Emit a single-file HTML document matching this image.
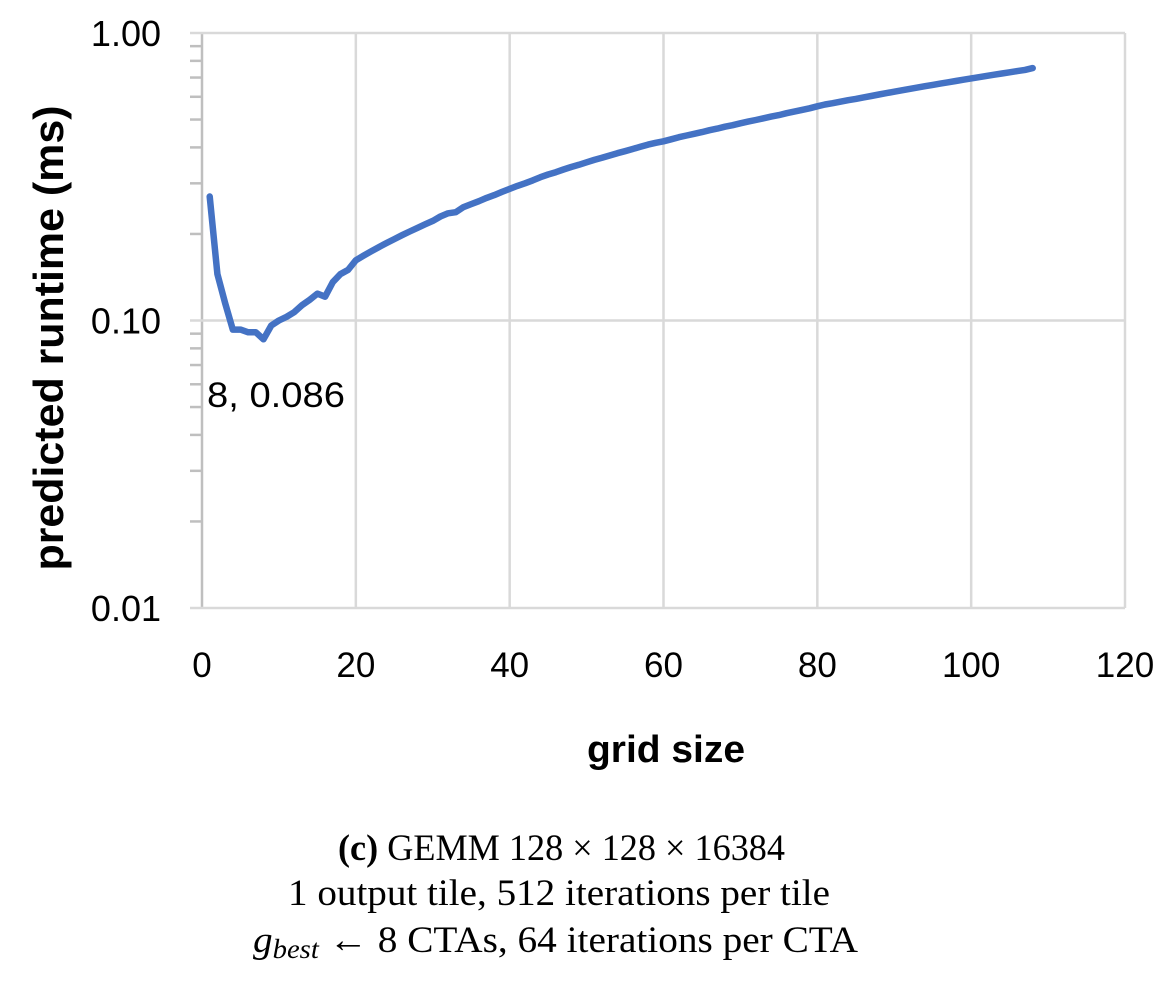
<!DOCTYPE html>
<html><head><meta charset="utf-8"><style>
body{margin:0;background:#fff;width:1168px;height:990px;overflow:hidden}
svg text{font-family:"Liberation Sans",sans-serif}
</style></head><body>
<svg id="chart" width="1168" height="990" xmlns="http://www.w3.org/2000/svg">
<g id="grid"></g>
<g id="ticks"></g>
<path id="line" fill="none" stroke="#4472C4" stroke-width="6.5" stroke-linejoin="round" stroke-linecap="round"/>
<text x="207" y="407" font-size="35" textLength="138" lengthAdjust="spacingAndGlyphs">8, 0.086</text>
<text transform="translate(63,338) rotate(-90)" text-anchor="middle" font-size="42" font-weight="bold" textLength="465" lengthAdjust="spacingAndGlyphs">predicted runtime (ms)</text>
<text x="666" y="762" text-anchor="middle" font-size="38" font-weight="bold" textLength="158" lengthAdjust="spacingAndGlyphs">grid size</text>
<g font-size="37">
<text x="338" y="860" style="font-family:'Liberation Serif',serif" textLength="447" lengthAdjust="spacingAndGlyphs"><tspan font-weight="bold">(c)</tspan> GEMM 128 × 128 × 16384</text>
<text x="288" y="905" style="font-family:'Liberation Serif',serif" textLength="542" lengthAdjust="spacingAndGlyphs">1 output tile, 512 iterations per tile</text>
<text x="253" y="952" style="font-family:'Liberation Serif',serif" textLength="605" lengthAdjust="spacingAndGlyphs"><tspan font-style="italic">g</tspan><tspan font-style="italic" font-size="27" dy="6">best</tspan><tspan dy="-6"> ← 8 CTAs, 64 iterations per CTA</tspan></text>
</g>
</svg>
<script>
const gridSizes=[];for(let i=1;i<=108;i++)gridSizes.push(i);
const runtimes=[.27,.145,.115,.093,.093,.091,.091,.086,.096,.100,.103,.107,.113,.118,.124,.121,.136,.145,.150,.162,
.168,.174,.180,.186,.192,.198,.204,.210,.216,.222,.230,.236,.238,.248,.254,.260,.267,.273,.280,.287,
.294,.300,.307,.315,.322,.328,.335,.342,.348,.355,.362,.368,.375,.382,.388,.395,.402,.409,.415,.420,
.427,.434,.440,.446,.452,.459,.465,.472,.478,.485,.492,.498,.505,.512,.518,.526,.533,.540,.547,.556,
.564,.570,.577,.584,.590,.597,.604,.611,.618,.625,.632,.639,.646,.653,.660,.667,.674,.681,.688,.695,
.702,.709,.716,.723,.730,.737,.744,.755];
const xTicks=[0,20,40,60,80,100,120];
const yTicks=[1,0.1,0.01];
const yTickLabels=["1.00","0.10","0.01"];
const X=v=>202+v*(1125-202)/120;
const Y=v=>33+(0-Math.log10(v))*287.5;
const NS="http://www.w3.org/2000/svg";
const grid=document.getElementById('grid'),ticks=document.getElementById('ticks');
function mk(tag,at,par){const e=document.createElementNS(NS,tag);for(const k in at)e.setAttribute(k,at[k]);par.appendChild(e);return e;}
xTicks.forEach(t=>{
 const l=mk('line',{x1:X(t),x2:X(t),y1:33,y2:608,stroke:t===0?'#bfbfbf':'#d9d9d9','stroke-width':2.5},grid);
 
 
 const tx=mk('text',{x:X(t),y:677,'text-anchor':'middle','font-size':35},ticks);
 tx.textContent=t;
 
 
});
yTicks.forEach((t,i)=>{
 const l=mk('line',{x1:190,x2:1125,y1:Y(t),y2:Y(t),stroke:'#d9d9d9','stroke-width':2.5},grid);
 
 
 const tx=mk('text',{x:161,y:Y(t)+13,'text-anchor':'end','font-size':36},ticks);
 tx.textContent=yTickLabels[i];
 
 
});
[0.1,0.01].forEach(d=>{for(let m=2;m<=9;m++){
 const l=mk('line',{x1:190,x2:202,y1:Y(d*m),y2:Y(d*m),stroke:'#bfbfbf','stroke-width':2.5},ticks);
 
 
}});
document.getElementById('line').setAttribute('d',gridSizes.map((g,i)=>(i?'L':'M')+X(g).toFixed(1)+' '+Y(runtimes[i]).toFixed(1)).join(' '));
</script>
</body></html>
